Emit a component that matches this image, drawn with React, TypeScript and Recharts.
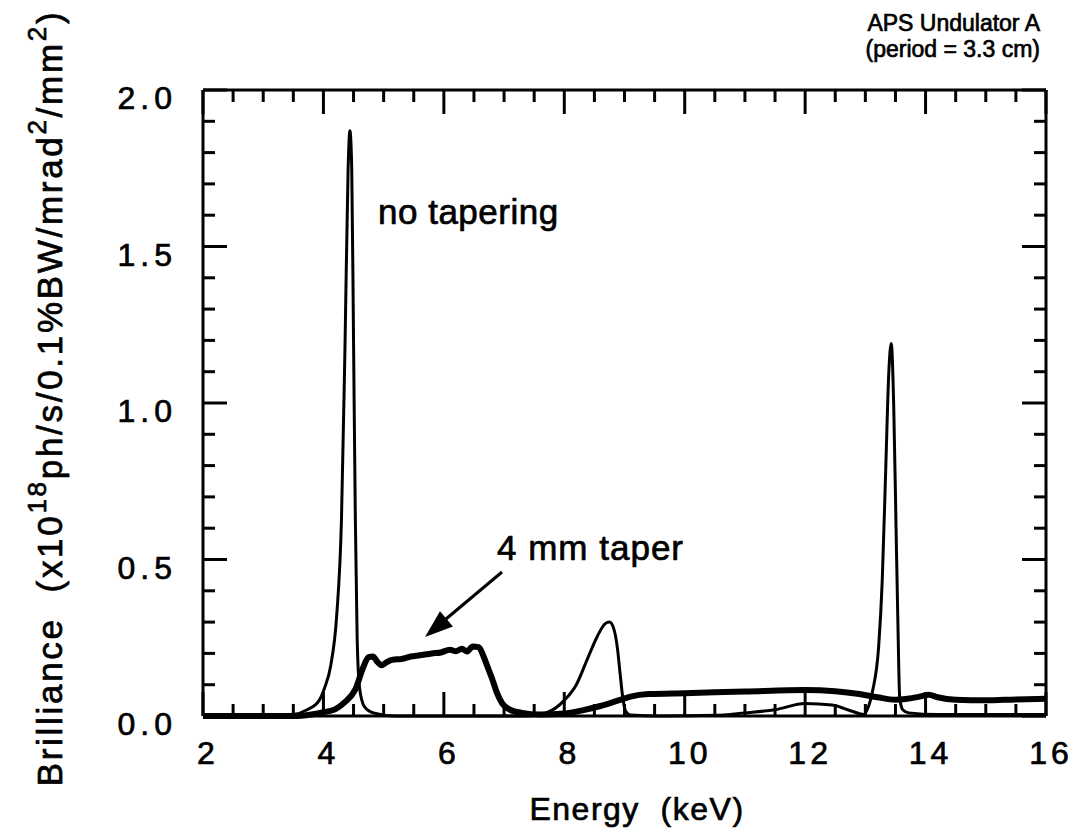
import { LineChart, Line, XAxis, YAxis } from "recharts";

// no tapering (thin line)
const noTaperEnergy = [
  2.0, 3.0, 3.5, 3.73, 3.93, 4.02, 4.12, 4.22, 4.3, 4.36, 4.41, 4.44, 4.47, 4.5, 4.53, 4.56, 4.6, 4.68, 4.83, 5.2,
  6.5, 7.4, 7.7, 8.0, 8.2, 8.4, 8.55, 8.68, 8.75, 8.82, 8.88, 8.93, 8.97, 9.02, 9.1, 9.6,
  10.5, 11.0, 11.5, 12.0, 12.45, 12.78, 12.98, 13.03, 13.12, 13.22, 13.28, 13.34, 13.39, 13.43, 13.47, 13.51, 13.54,
  13.57, 13.62, 13.72, 14.2, 15.0, 16.0,
];
const noTaperBrilliance = [
  0.0, 0.0, 0.005, 0.02, 0.05, 0.09, 0.16, 0.32, 0.63, 1.2, 1.75, 1.87, 1.75, 1.2, 0.63, 0.25, 0.09, 0.03, 0.01, 0.0,
  0.0, 0.0, 0.01, 0.05, 0.1, 0.19, 0.255, 0.295, 0.3, 0.28, 0.22, 0.13, 0.06, 0.015, 0.003, 0.0,
  0.002, 0.01, 0.02, 0.04, 0.035, 0.015, 0.005, 0.02, 0.08, 0.22, 0.43, 0.8, 1.1, 1.19, 1.0, 0.6, 0.3,
  0.06, 0.02, 0.01, 0.005, 0.005, 0.005,
];

// 4 mm taper (thick line)
const taperEnergy = [
  2.0, 3.5, 3.8, 4.0, 4.2, 4.36, 4.53, 4.66, 4.75, 4.82, 4.9, 4.97, 5.05, 5.15, 5.3, 5.45, 5.6, 5.8, 5.95, 6.1, 6.2,
  6.3, 6.38, 6.48, 6.58, 6.65, 6.72, 6.8, 6.88, 6.97, 7.1, 7.3, 7.6, 8.0, 8.3, 8.6, 8.9, 9.1, 9.4, 10.0, 11.0, 12.0,
  12.5, 12.9, 13.2, 13.5, 13.7, 13.9, 14.05, 14.2, 14.5, 15.0, 15.5, 16.0,
];
const taperBrilliance = [
  0.0, 0.0, 0.005, 0.012, 0.022, 0.045, 0.085, 0.155, 0.188, 0.19, 0.172, 0.162, 0.172, 0.18, 0.182, 0.19, 0.194, 0.2,
  0.203, 0.212, 0.207, 0.215, 0.206, 0.222, 0.22, 0.195, 0.16, 0.12, 0.075, 0.04, 0.02, 0.01, 0.005, 0.008, 0.018,
  0.032, 0.05, 0.062, 0.07, 0.073, 0.078, 0.083, 0.079, 0.07, 0.06, 0.052, 0.055, 0.062, 0.068, 0.06, 0.052, 0.05,
  0.053, 0.055,
];

const xTicks = [2, 2.5, 3, 3.5, 4, 4.5, 5, 5.5, 6, 6.5, 7, 7.5, 8, 8.5, 9, 9.5, 10, 10.5, 11, 11.5, 12, 12.5, 13, 13.5, 14, 14.5, 15, 15.5, 16];
const yTicks = [0, 0.1, 0.2, 0.3, 0.4, 0.5, 0.6, 0.7, 0.8, 0.9, 1.0, 1.1, 1.2, 1.3, 1.4, 1.5, 1.6, 1.7, 1.8, 1.9, 2.0];

const noTaperData = noTaperEnergy.map((e, i) => ({ energy: e, b: noTaperBrilliance[i] }));
const taperData = taperEnergy.map((e, i) => ({ energy: e, b: taperBrilliance[i] }));

const FONT = '"Liberation Sans", Arial, Helvetica, sans-serif';
const W = 1073;
const H = 833;

const isMajorX = (v: number) => Math.abs(v / 2 - Math.round(v / 2)) < 1e-6;
const isMajorY = (v: number) => Math.abs(v * 2 - Math.round(v * 2)) < 1e-6;

function BottomTick(props: any) {
  const { x, y, payload } = props;
  const v = payload.value;
  const major = isMajorX(v);
  return (
    <g>
      <line x1={x} y1={y} x2={x} y2={y - (major ? 24 : 12)} stroke="#000" strokeWidth={3} />
      {major && (
        <text x={x + 5} y={y + 48} textAnchor="middle" fontSize={32} fontFamily={FONT} letterSpacing={4} fill="#000" stroke="#000" strokeWidth={0.7}>
          {v}
        </text>
      )}
    </g>
  );
}

function TopTick(props: any) {
  const { x, y, payload } = props;
  const major = isMajorX(payload.value);
  return <line x1={x} y1={y} x2={x} y2={y + (major ? 24 : 12)} stroke="#000" strokeWidth={3} />;
}

function LeftTick(props: any) {
  const { x, y, payload } = props;
  const v = payload.value;
  const major = isMajorY(v);
  return (
    <g>
      <line x1={x} y1={y} x2={x + (major ? 24 : 12)} y2={y} stroke="#000" strokeWidth={3} />
      {major && (
        <text x={x - 26} y={y + 19} textAnchor="end" fontSize={32} fontFamily={FONT} letterSpacing={5} fill="#000" stroke="#000" strokeWidth={0.7}>
          {v.toFixed(1)}
        </text>
      )}
    </g>
  );
}

function RightTick(props: any) {
  const { x, y, payload } = props;
  const major = isMajorY(payload.value);
  return <line x1={x} y1={y} x2={x - (major ? 24 : 12)} y2={y} stroke="#000" strokeWidth={3} />;
}

const axisLine = { stroke: "#000", strokeWidth: 3 };

export default function App() {
  return (
    <div style={{ position: "absolute", left: 0, top: 0, width: W, height: H, background: "#fff" }}>
      <LineChart width={W} height={H} margin={{ top: 89, right: 26, bottom: 116, left: 202 }}>
        <XAxis
          xAxisId="bottom"
          dataKey="energy"
          type="number"
          domain={[2, 16]}
          ticks={xTicks}
          interval={0}
          height={1}
          tickSize={0}
          tickMargin={0}
          tickLine={false}
          axisLine={axisLine}
          tick={BottomTick}
        />
        <XAxis
          xAxisId="top"
          orientation="top"
          dataKey="energy"
          type="number"
          domain={[2, 16]}
          ticks={xTicks}
          interval={0}
          height={1}
          tickSize={0}
          tickMargin={0}
          tickLine={false}
          axisLine={axisLine}
          tick={TopTick}
        />
        <YAxis
          yAxisId="left"
          type="number"
          domain={[0, 2]}
          ticks={yTicks}
          interval={0}
          width={1}
          tickSize={0}
          tickMargin={0}
          tickLine={false}
          axisLine={axisLine}
          tick={LeftTick}
        />
        <YAxis
          yAxisId="right"
          orientation="right"
          type="number"
          domain={[0, 2]}
          ticks={yTicks}
          interval={0}
          width={1}
          tickSize={0}
          tickMargin={0}
          tickLine={false}
          axisLine={axisLine}
          tick={RightTick}
        />
        <Line
          xAxisId="bottom"
          yAxisId="left"
          data={noTaperData}
          dataKey="b"
          type="monotone"
          stroke="#000"
          strokeWidth={3}
          dot={false}
          isAnimationActive={false}
        />
        <Line
          xAxisId="top"
          yAxisId="right"
          data={taperData}
          dataKey="b"
          type="monotone"
          stroke="#000"
          strokeWidth={6}
          strokeLinejoin="round"
          dot={false}
          isAnimationActive={false}
        />
      </LineChart>
      <svg width={W} height={H} style={{ position: "absolute", left: 0, top: 0, pointerEvents: "none" }} fontFamily={FONT} fill="#000">
        <g stroke="#000" strokeWidth={0.7}>
          <text x={1040} y={31} textAnchor="end" fontSize={23}>APS Undulator A</text>
          <text x={1040} y={57} textAnchor="end" fontSize={23}>(period = 3.3 cm)</text>
          <text x={378} y={224} fontSize={35} letterSpacing={0.5}>no tapering</text>
          <text x={497} y={560} fontSize={35} letterSpacing={1}>4 mm taper</text>
          <text x={637} y={820} textAnchor="middle" fontSize={32} letterSpacing={1.5} style={{ whiteSpace: "pre" }}>
            Energy  (keV)
          </text>
          <text transform="translate(62,398) rotate(-90)" textAnchor="middle" fontSize={35} letterSpacing={2.7} style={{ whiteSpace: "pre" }}>
            Brilliance  (x10<tspan dy={-16} fontSize={26}>18</tspan>
            <tspan dy={16}>ph/s/0.1%BW/mrad</tspan>
            <tspan dy={-16} fontSize={26}>2</tspan>
            <tspan dy={16}>/mm</tspan>
            <tspan dy={-16} fontSize={26}>2</tspan>
            <tspan dy={16}>)</tspan>
          </text>
        </g>
        <line x1={502} y1={572} x2={440} y2={624} stroke="#000" strokeWidth={3} />
        <polygon points="425,637 452.9,626.5 440,611.3" fill="#000" />
      </svg>
    </div>
  );
}
